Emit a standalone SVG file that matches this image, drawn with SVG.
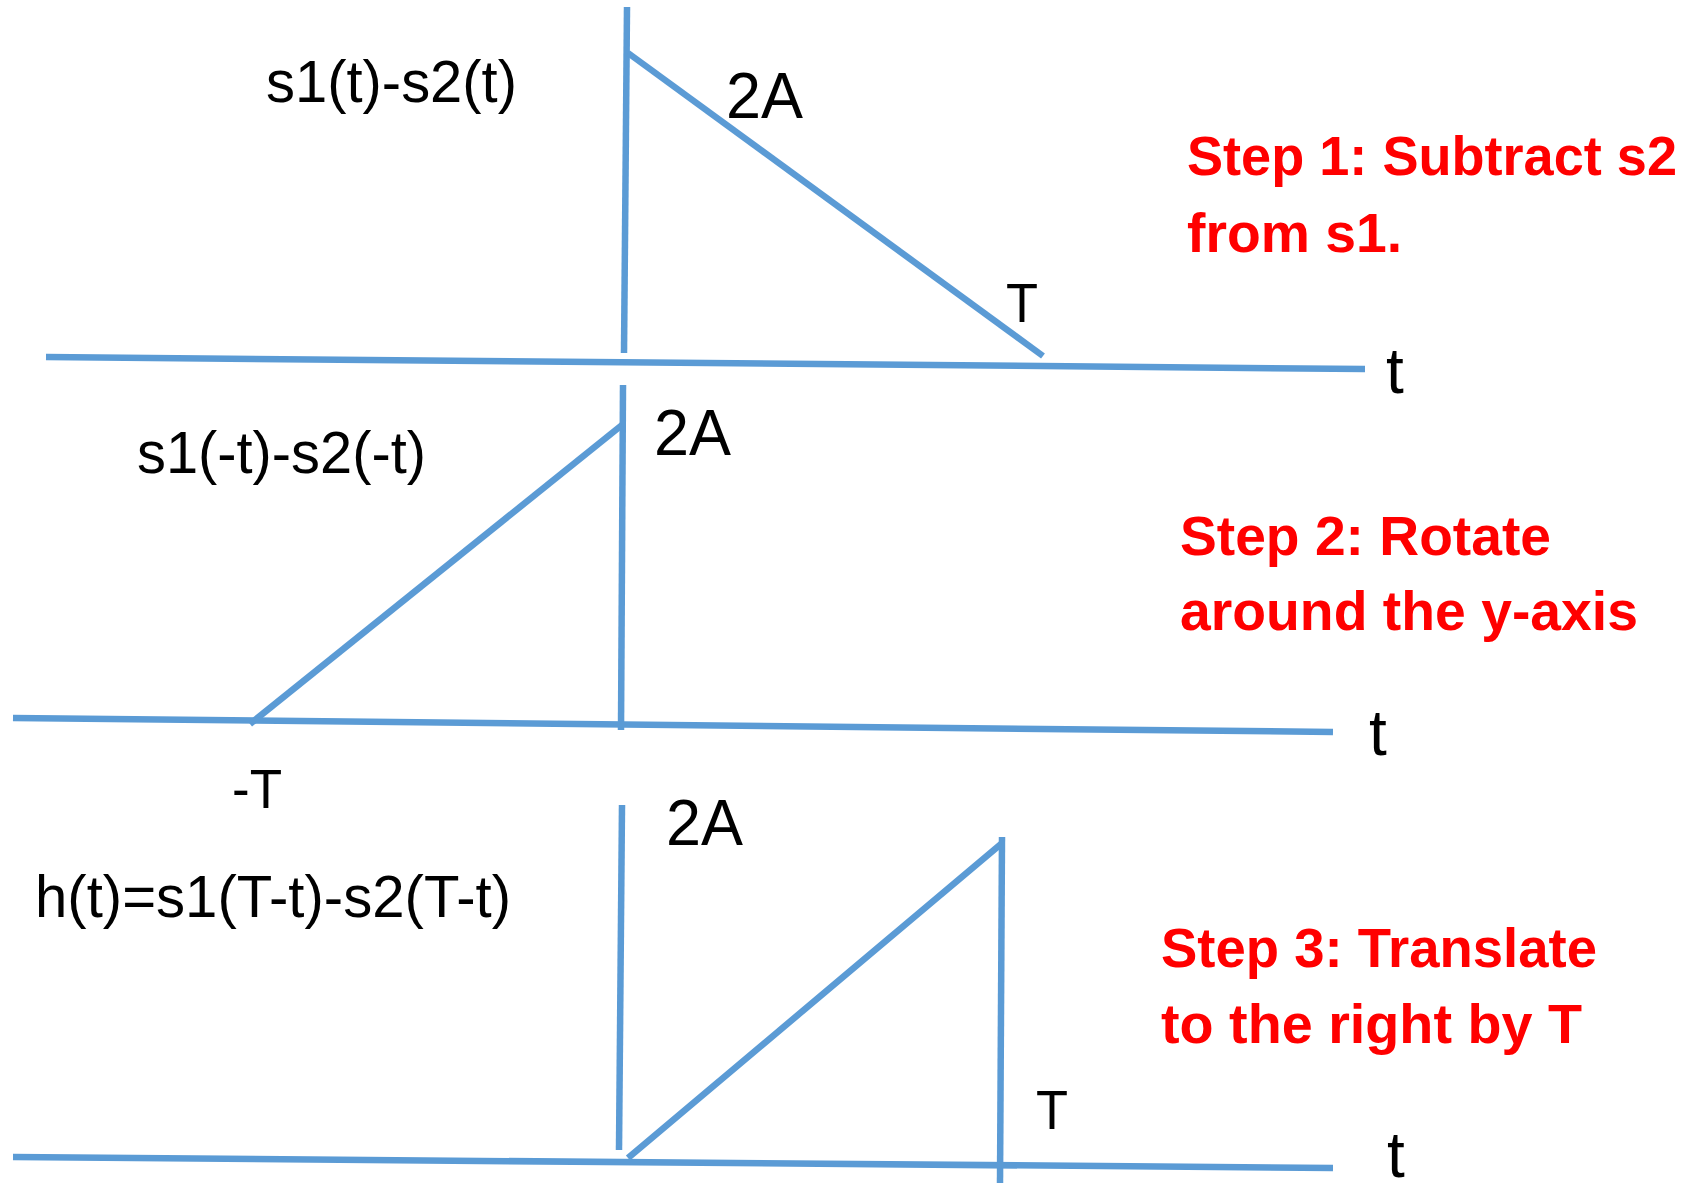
<svg xmlns="http://www.w3.org/2000/svg" width="1691" height="1183" viewBox="0 0 1691 1183">
<style>
.ln{stroke:#5B9BD5;stroke-width:6.5;fill:none;stroke-linecap:butt}
.lb{font-family:"Liberation Sans",Arial,sans-serif;fill:#000}
.st{font-family:"Liberation Sans",Arial,sans-serif;font-weight:bold;fill:#FF0000;font-size:56px}
</style>
<rect width="1691" height="1183" fill="#fff"/>
<g id="connectors">
<g id="panel1-lines">
<line class="ln" x1="627" y1="7" x2="624" y2="353"/>
<line class="ln" x1="628" y1="53" x2="1043" y2="356"/>
<line class="ln" x1="46" y1="357" x2="1365" y2="369"/>
</g>
<g id="panel2-lines">
<line class="ln" x1="623" y1="385" x2="621" y2="730"/>
<line class="ln" x1="250" y1="724" x2="622" y2="425"/>
<line class="ln" x1="13" y1="718" x2="1333" y2="732"/>
</g>
<g id="panel3-lines">
<line class="ln" x1="622" y1="805" x2="619" y2="1150"/>
<line class="ln" x1="628" y1="1158" x2="1001" y2="844"/>
<line class="ln" x1="1002" y1="837" x2="1000" y2="1183"/>
<line class="ln" x1="13" y1="1157" x2="1333" y2="1168"/>
</g>
</g>
<g id="panel1">
<text class="lb" x="266" y="102" font-size="59" textLength="251" lengthAdjust="spacingAndGlyphs">s1(t)-s2(t)</text>
<text class="lb" x="726" y="118" font-size="64" textLength="77" lengthAdjust="spacingAndGlyphs">2A</text>
<text class="lb" x="1006" y="322" font-size="56" textLength="32" lengthAdjust="spacingAndGlyphs">T</text>
<text class="lb" x="1386" y="393" font-size="64">t</text>
<text class="st" x="1187" y="175" textLength="490" lengthAdjust="spacingAndGlyphs">Step 1: Subtract s2</text>
<text class="st" x="1187" y="252" textLength="215" lengthAdjust="spacingAndGlyphs">from s1.</text>
</g>
<g id="panel2">
<text class="lb" x="137" y="473" font-size="59" textLength="289" lengthAdjust="spacingAndGlyphs">s1(-t)-s2(-t)</text>
<text class="lb" x="654" y="455" font-size="64" textLength="77" lengthAdjust="spacingAndGlyphs">2A</text>
<text class="lb" x="232" y="808" font-size="56" textLength="50" lengthAdjust="spacingAndGlyphs">-T</text>
<text class="lb" x="1369" y="755" font-size="64">t</text>
<text class="st" x="1180" y="555" textLength="371" lengthAdjust="spacingAndGlyphs">Step 2: Rotate</text>
<text class="st" x="1180" y="630" textLength="458" lengthAdjust="spacingAndGlyphs">around the y-axis</text>
</g>
<g id="panel3">
<text class="lb" x="35" y="917" font-size="59" textLength="476" lengthAdjust="spacingAndGlyphs">h(t)=s1(T-t)-s2(T-t)</text>
<text class="lb" x="666" y="845" font-size="64" textLength="77" lengthAdjust="spacingAndGlyphs">2A</text>
<text class="lb" x="1036" y="1129" font-size="56" textLength="32" lengthAdjust="spacingAndGlyphs">T</text>
<text class="lb" x="1387" y="1177" font-size="64">t</text>
<text class="st" x="1161" y="967" textLength="436" lengthAdjust="spacingAndGlyphs">Step 3: Translate</text>
<text class="st" x="1161" y="1043" textLength="421" lengthAdjust="spacingAndGlyphs">to the right by T</text>
</g>
</svg>
